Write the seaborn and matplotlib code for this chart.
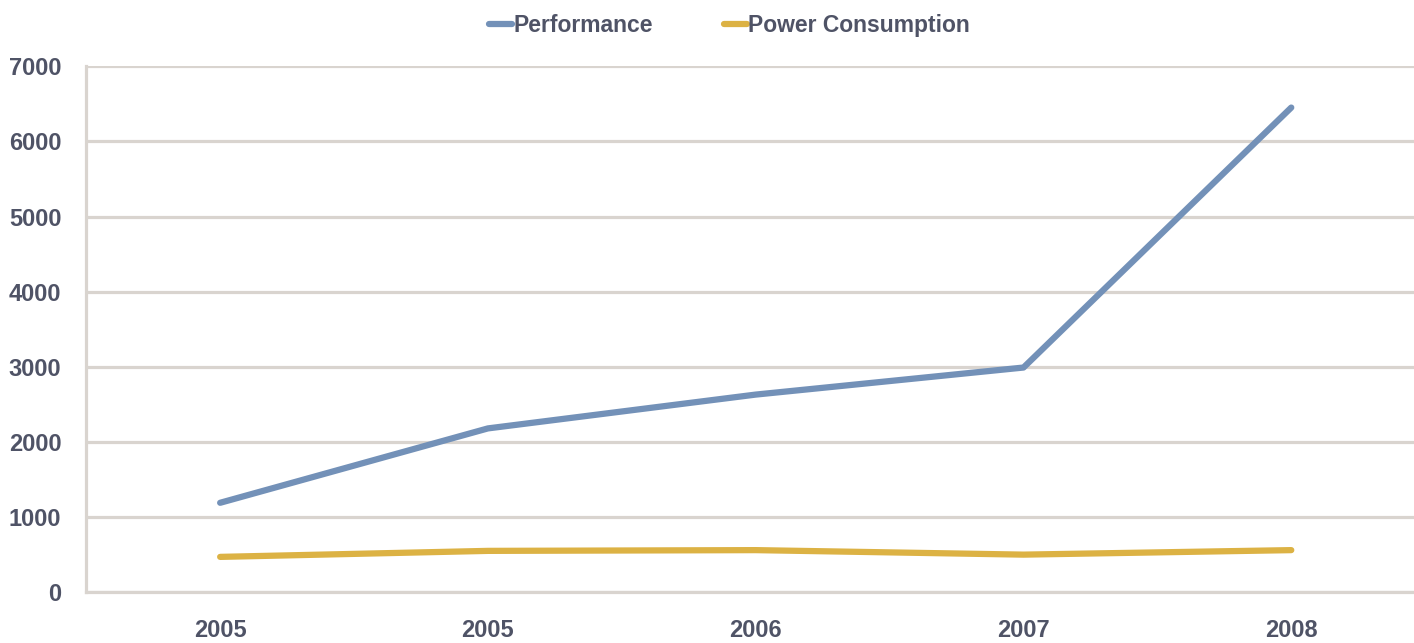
import numpy as np
import pandas as pd
import seaborn as sns
import matplotlib.pyplot as plt

sns.set_style('white')
plt.rcParams['font.family'] = ['Liberation Sans', 'DejaVu Sans']

# chart data
years = ['2005', '2005', '2006', '2007', '2008']
performance = [1190, 2180, 2630, 2990, 6450]
power = [470, 550, 560, 500, 560]

txt = '#4f5366'
grid = '#d9d4cf'
colors = {'Performance': '#7391b8', 'Power Consumption': '#dcb244'}

df = pd.DataFrame({
    'pos': list(range(len(years))) * 2,
    'value': performance + power,
    'series': ['Performance'] * len(years) + ['Power Consumption'] * len(years),
})

fig = plt.figure(figsize=(14.14, 6.43), dpi=100)
ax = fig.add_axes([0.061, 0.079, 0.945, 0.818])

sns.lineplot(data=df, x='pos', y='value', hue='series', palette=colors,
             linewidth=4.5, solid_capstyle='round', ax=ax, legend=False)

ax.set_xlim(-0.5, 4.49)
ax.set_ylim(0, 7000)
ax.set_yticks(range(0, 7001, 1000))
ax.set_xticks(range(len(years)))
ax.set_xticklabels(years)
ax.set_xlabel('')
ax.set_ylabel('')
ax.yaxis.grid(True, color=grid, linewidth=2.3)
ax.set_axisbelow(True)
for s in ['top', 'right']:
    ax.spines[s].set_visible(False)
for s in ['left', 'bottom']:
    ax.spines[s].set_color(grid)
    ax.spines[s].set_linewidth(2.3)
ax.tick_params(axis='both', length=0, labelsize=17, labelcolor=txt)
ax.tick_params(axis='x', pad=19)
ax.tick_params(axis='y', pad=18)
for lab in ax.get_xticklabels() + ax.get_yticklabels():
    lab.set_fontweight('bold')

handles = [plt.Line2D([], [], color=c, linewidth=4.5, solid_capstyle='round') for c in colors.values()]
leg = fig.legend(handles, list(colors.keys()), loc='upper center', bbox_to_anchor=(0.516, 1.01),
                 ncol=2, frameon=False, handlelength=1.0, handletextpad=0.05, columnspacing=3.1,
                 prop={'size': 16.5, 'weight': 'bold'})
for t in leg.get_texts():
    t.set_color(txt)

fig.savefig('out.png', dpi=100)
